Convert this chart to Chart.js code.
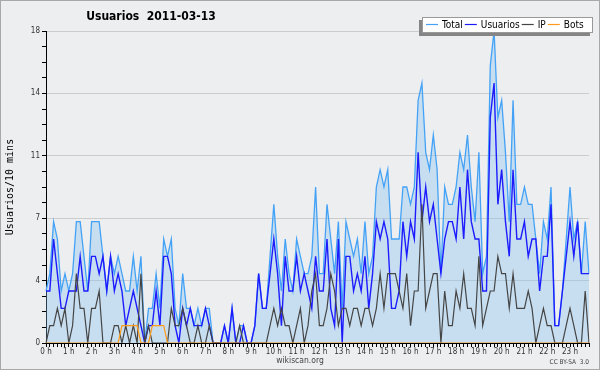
<!DOCTYPE html>
<html>
<head>
<meta charset="utf-8">
<title>Usuarios 2011-03-13</title>
<script src="https://cdn.jsdelivr.net/npm/chart.js@4.4.1/dist/chart.umd.min.js"></script>
<style>
  html, body { margin: 0; padding: 0; background: #edeef0; overflow: hidden; }
  #wrap { width: 600px; height: 370px; }
</style>
</head>
<body>
<div id="wrap"><canvas id="usersChart" width="600" height="370"></canvas></div>
<script>
// hour tick labels, one per 6 slots of 10 minutes
const hourLabels = ['0 h','1 h','2 h','3 h','4 h','5 h','6 h','7 h','8 h','9 h','10 h','11 h',
  '12 h','13 h','14 h','15 h','16 h','17 h','18 h','19 h','20 h','21 h','22 h','23 h'];
const slots = hourLabels.flatMap(h => [h, '', '', '', '', '']);

// values, one per 10 minutes
const totalSeries = [
  3,4,7,6,3,4, 3,4,7,7,5,3, 7,7,7,5,3,5, 4,5,4,3,3,5, 3,5,0,2,2,4, 2,6,5,6,2,1,
  4,2,2,1,2,1, 2,2,0,0,0,1, 0,2,0,1,1,0, 0,1,4,2,2,5, 8,5,3,6,4,3, 6,5,4,4,5,9,
  4,4,8,6,4,7, 2,7,6,5,6,4, 7,4,5,9,10,9, 10,6,6,6,9,9, 8,9,14,15,11,10, 12,10,4,9,8,8,
  9,11,10,12,9,7, 11,4,5,16,18,13, 14,11,7,14,8,8, 9,8,8,6,4,7, 6,9,1,1,3,6, 9,6,7,4,7,4
];
const usuariosSeries = [
  3,3,6,4,2,2, 3,3,3,5,3,3, 5,5,4,5,3,5, 3,4,3,1,2,3, 2,1,0,1,1,3, 1,5,5,4,1,0,
  2,1,2,1,1,1, 2,1,0,0,0,1, 0,2,0,0,1,0, 0,1,4,2,2,4, 6,4,1,5,3,3, 5,3,4,3,2,5,
  3,3,6,2,1,6, 0,5,5,3,4,3, 5,2,4,7,6,7, 6,2,2,3,7,5, 7,6,11,7,9,7, 8,6,4,6,7,7,
  6,9,6,10,7,6, 6,3,3,13,15,8, 10,7,5,10,6,6, 7,5,6,6,3,5, 5,8,1,1,3,5, 7,5,7,4,4,4
];
const ipSeries = [
  0,1,1,2,1,2, 0,1,4,2,2,0, 2,2,3,0,0,0, 1,1,0,1,0,1, 0,4,0,1,0,0, 0,0,0,2,1,1,
  2,1,0,0,1,0, 0,1,0,0,0,0, 0,0,0,1,0,0, 0,0,0,0,0,1, 2,1,2,1,1,0, 1,2,0,1,3,4,
  1,1,2,4,3,1, 2,2,1,2,2,1, 2,2,1,2,4,2, 4,4,4,3,2,4, 1,3,3,8,2,3, 4,4,0,3,1,1,
  3,2,4,2,2,1, 5,1,2,3,3,5, 4,4,2,4,2,2, 2,3,2,0,1,2, 1,1,0,0,0,1, 2,1,0,0,3,0
];
const botsSeries = [
  0,0,0,0,0,0, 0,0,0,0,0,0, 0,0,0,0,0,0, 0,0,1,1,1,1, 1,0,0,0,1,1, 1,1,0,0,0,0,
  0,0,0,0,0,0, 0,0,0,0,0,0, 0,0,0,0,0,0, 0,0,0,0,0,0, 0,0,0,0,0,0, 0,0,0,0,0,0,
  0,0,0,0,0,0, 0,0,0,0,0,0, 0,0,0,0,0,0, 0,0,0,0,0,0, 0,0,0,0,0,0, 0,0,0,0,0,0,
  0,0,0,0,0,0, 0,0,0,0,0,0, 0,0,0,0,0,0, 0,0,0,0,0,0, 0,0,0,0,0,0, 0,0,0,0,0,0
];

const condensed = 'DejaVu Sans Condensed, DejaVu Sans, sans-serif';

// title, legend box, footer texts and frame
const decor = {
  id: 'decor',
  beforeDraw(chart) {
    const ctx = chart.ctx;
    ctx.save();
    ctx.fillStyle = '#edeef0';
    ctx.fillRect(0, 0, chart.width, chart.height);
    ctx.restore();
  },
  afterDraw(chart) {
    const ctx = chart.ctx;
    ctx.save();
    ctx.textBaseline = 'middle';

    ctx.fillStyle = '#000';
    ctx.textAlign = 'center';
    ctx.font = 'bold 12px ' + condensed;
    ctx.fillText('Usuarios  2011-03-13', 151, 17);

    // legend with shadow
    ctx.fillStyle = '#858585';
    ctx.fillRect(419, 20, 171, 16);
    ctx.fillStyle = '#fff';
    ctx.fillRect(422, 17, 171, 16);
    ctx.strokeStyle = '#999';
    ctx.lineWidth = 1;
    ctx.strokeRect(422.5, 17.5, 170, 15);
    ctx.font = '10px ' + condensed;
    ctx.textAlign = 'left';
    let x = 426;
    chart.data.datasets.forEach(ds => {
      ctx.strokeStyle = ds.borderColor;
      ctx.lineWidth = 1.2;
      ctx.beginPath();
      ctx.moveTo(x, 24.5);
      ctx.lineTo(x + 12, 24.5);
      ctx.stroke();
      ctx.fillStyle = '#000';
      ctx.fillText(ds.label, x + 16, 25);
      x += 16 + ctx.measureText(ds.label).width + 2;
    });

    ctx.fillStyle = '#444';
    ctx.textAlign = 'center';
    ctx.font = '8.5px ' + condensed;
    ctx.fillText('wikiscan.org', 300, 361);
    ctx.textAlign = 'right';
    ctx.font = '6.5px ' + condensed;
    ctx.fillText('CC BY-SA  3.0', 589, 362);

    ctx.strokeStyle = '#a8a8a8';
    ctx.lineWidth = 1;
    ctx.strokeRect(0.5, 0.5, chart.width - 1, chart.height - 1);
    ctx.restore();
  }
};

const data = {
  labels: slots,
  datasets: [{
    label: 'Total',
    data: totalSeries,
    borderColor: '#44a2f6',
    backgroundColor: 'rgba(120,190,240,0.33)',
    fill: 'origin',
    borderWidth: 1.3,
    order: 4
  },
  {
    label: 'Usuarios',
    data: usuariosSeries,
    borderColor: '#1c1cff',
    borderWidth: 1.4,
    fill: false,
    order: 3
  },
  {
    label: 'IP',
    data: ipSeries,
    borderColor: '#454545',
    borderWidth: 1.2,
    fill: false,
    order: 2
  },
  {
    label: 'Bots',
    data: botsSeries,
    borderColor: '#ff9a1a',
    borderWidth: 1.2,
    fill: false,
    order: 1
  }]
};

const config = {
  type: 'line',
  data: data,
  options: {
    responsive: false,
    animation: false,
    devicePixelRatio: 1,
    layout: { padding: { left: 0, top: 31, right: 11, bottom: 0 } },
    elements: { point: { radius: 0 }, line: { tension: 0 } },
    plugins: { legend: { display: false }, tooltip: { enabled: false } },
    scales: {
      x: {
        type: 'category',
        offset: false,
        z: 1,
        grid: { display: true, drawOnChartArea: false, drawTicks: true, tickLength: 4, tickColor: '#000' },
        border: { display: true, color: '#000' },
        ticks: {
          autoSkip: false, maxRotation: 0, minRotation: 0, padding: 0,
          color: '#333', font: { family: condensed, size: 8 },
          callback: (v, i) => slots[i]
        },
        afterFit: s => { s.height = 27; }
      },
      y: {
        min: 0,
        max: 18,
        grid: {
          color: c => (c.index % 4 === 0 ? '#cccccc' : 'rgba(0,0,0,0)'),
          tickColor: '#000', tickLength: 4, drawTicks: true
        },
        border: { display: true, color: '#000' },
        ticks: {
          stepSize: 0.9, maxTicksLimit: 30, autoSkip: false, padding: 2,
          color: '#333', font: { family: condensed, size: 8 },
          callback: (v, i) => (i % 4 === 0 ? String(Math.round(v)) : '')
        },
        title: {
          display: true, text: 'Usuarios/10 mins', color: '#000',
          font: { family: 'DejaVu Sans Mono', size: 10 },
          padding: { top: 4, bottom: 0 }
        },
        afterFit: s => { s.width = 46; }
      }
    }
  },
  plugins: [decor]
};

const usersChart = new Chart(document.getElementById('usersChart'), config);
</script>
</body>
</html>
